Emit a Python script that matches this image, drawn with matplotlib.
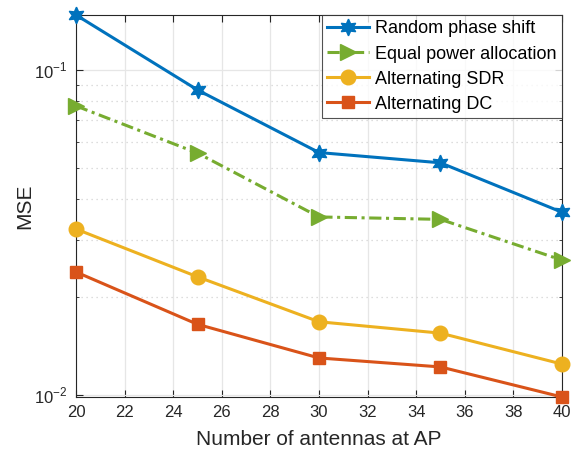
import numpy as np
import matplotlib
matplotlib.use("Agg")
import matplotlib.pyplot as plt
from matplotlib.ticker import LogLocator, NullFormatter, FixedLocator

plt.rcParams['font.family'] = ['Liberation Sans', 'DejaVu Sans']
plt.rcParams['mathtext.fontset'] = 'custom'
plt.rcParams['mathtext.rm'] = 'Liberation Sans'

antennas = [20, 25, 30, 35, 40]
random_phase = [0.1476, 0.0868, 0.0557, 0.0518, 0.0365]
equal_power = [0.0775, 0.0555, 0.0353, 0.0347, 0.0260]
alt_sdr = [0.0324, 0.0231, 0.0168, 0.0155, 0.01245]
alt_dc = [0.0239, 0.0165, 0.0130, 0.0122, 0.00986]

labels = ["Random phase shift", "Equal power allocation", "Alternating SDR", "Alternating DC"]
colors = ["#0072BD", "#77AC30", "#EDB120", "#D95319"]

fig = plt.figure(figsize=(5.79, 4.5), dpi=100)
ax = fig.add_axes([0.1313, 0.1178, 0.8393, 0.8489])

star = (6, 1, 0)
ax.plot(antennas, random_phase, color=colors[0], lw=2.2, marker=star, ms=12, label=labels[0], clip_on=False, zorder=5)
ax.plot(antennas, equal_power, color=colors[1], lw=2.2, ls=(0, (4, 1.5, 1, 1.5)), marker='>', ms=11, label=labels[1], clip_on=False, zorder=5)
ax.plot(antennas, alt_sdr, color=colors[2], lw=2.2, marker='o', ms=10.5, label=labels[2], clip_on=False, zorder=5)
ax.plot(antennas, alt_dc, color=colors[3], lw=2.2, marker='s', ms=9, label=labels[3], clip_on=False, zorder=5)

ax.set_yscale('log')
ax.set_xlim(20, 40)
ax.set_ylim(min(alt_dc), max(random_phase))
ax.set_xticks(np.arange(20, 41, 2))
ax.yaxis.set_major_locator(FixedLocator([0.01, 0.1]))
ax.set_yticklabels([r'$10^{-2}$', r'$10^{-1}$'])
ax.yaxis.set_minor_locator(LogLocator(base=10, subs=np.arange(2, 10)))
ax.yaxis.set_minor_formatter(NullFormatter())

ax.grid(True, which='major', color='#e6e6e6', lw=0.9, ls='-')
ax.grid(True, which='minor', axis='y', color='#d2d2d2', lw=0.9, ls=(0, (1, 3)))
ax.set_axisbelow(True)

ax.tick_params(which='both', direction='in', top=True, right=True, colors='#262626',
               labelsize=12)
ax.tick_params(which='major', length=5, pad=6)
ax.tick_params(which='minor', length=2.5)
for s in ax.spines.values():
    s.set_color('#262626')
    s.set_linewidth(0.8)

ax.set_xlabel('Number of antennas at AP', fontsize=15, color='#262626', labelpad=7)
ax.set_ylabel('MSE', fontsize=15, color='#262626', labelpad=0)

leg = ax.legend(loc='upper right', fontsize=13, frameon=True, fancybox=False,
                edgecolor='#262626', borderpad=0.3, labelspacing=0.45,
                handlelength=2.3, handletextpad=0.35, borderaxespad=0.0)
leg.get_frame().set_linewidth(0.8)
leg.set_zorder(10)

fig.savefig('out.png', dpi=100)
